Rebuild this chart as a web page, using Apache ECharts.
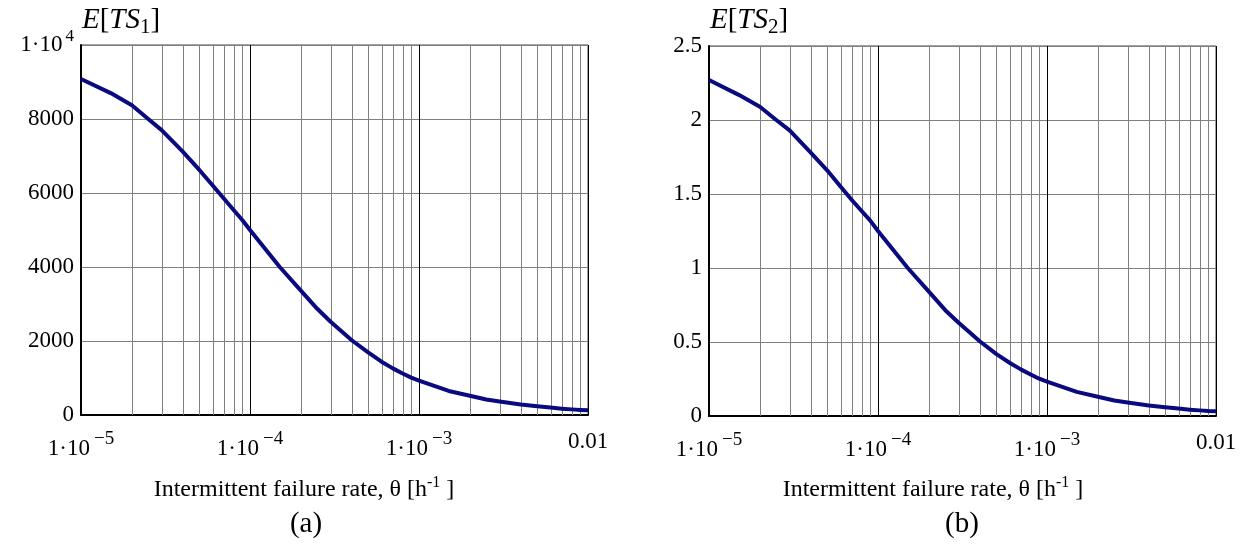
<!DOCTYPE html>
<html>
<head>
<meta charset="utf-8">
<script src="https://cdn.jsdelivr.net/npm/echarts@6/dist/echarts.min.js"></script>
<style>
  html, body { margin: 0; padding: 0; background: #fff; }
  #chart { width: 1251px; height: 555px; }
</style>
</head>
<body>
<div id="chart"></div>
<script>
// failure rate samples (h^-1), log axis
const theta = [
  1e-5, 1.5e-5, 2e-5, 2.5e-5, 3e-5, 4e-5, 5e-5, 6e-5, 7e-5, 8e-5, 9e-5,
  1e-4, 1.5e-4, 2e-4, 2.5e-4, 3e-4, 4e-4, 5e-4, 6e-4, 7e-4, 8e-4, 9e-4,
  1e-3, 1.5e-3, 2e-3, 2.5e-3, 3e-3, 4e-3, 5e-3, 6e-3, 7e-3, 8e-3, 9e-3,
  1e-2
];
// E[TS1], panel (a)
const ts1 = [
  9080, 8700, 8370, 8000, 7700, 7120, 6630, 6210, 5850, 5540, 5270,
  5000, 4000, 3360, 2870, 2520, 2020, 1690, 1440, 1260, 1120, 1010,
  930, 650, 520, 420, 365, 285, 235, 200, 172, 152, 138,
  128
];
// E[TS2], panel (b)
const ts2 = [
  2.27, 2.17, 2.09, 2.0, 1.93, 1.78, 1.66, 1.55, 1.46, 1.385, 1.32,
  1.25, 1.0, 0.84, 0.715, 0.63, 0.505, 0.42, 0.36, 0.315, 0.28, 0.252,
  0.232, 0.163, 0.13, 0.105, 0.091, 0.071, 0.059, 0.05, 0.043, 0.038, 0.034,
  0.032
];
const xMin = 1e-5, xMax = 1e-2;
// minor grid lines at 2..9 inside each decade
const minorLines = [
  2e-5, 3e-5, 4e-5, 5e-5, 6e-5, 7e-5, 8e-5, 9e-5,
  2e-4, 3e-4, 4e-4, 5e-4, 6e-4, 7e-4, 8e-4, 9e-4,
  2e-3, 3e-3, 4e-3, 5e-3, 6e-3, 7e-3, 8e-3, 9e-3
];

const FONT = '"Liberation Serif", "DejaVu Serif", serif';
const INK = '#000';
const GRID_GRAY = '#808080';

const chart = echarts.init(document.getElementById('chart'));

function xLabel(v) {
  const e = Math.round(Math.log10(v));
  if (e === -2) return '{b|0.01}';
  return '{b|1·10}{s|−' + (-e) + '}';
}

const richX = {
  b: { fontFamily: FONT, fontSize: 23, color: INK },
  s: { fontFamily: FONT, fontSize: 19, color: INK, padding: [0, 0, 18, 4] }
};

function xAxis(idx) {
  return {
    type: 'log', logBase: 10, gridIndex: idx, min: xMin, max: xMax,
    axisLine: { show: true, onZero: false, lineStyle: { color: INK, width: 2 } },
    axisTick: { show: false },
    axisLabel: { margin: 15, formatter: xLabel, rich: richX },
    splitLine: { show: true, lineStyle: { color: '#000', width: 1 } },
    minorTick: { show: false },
  };
}

function yAxis(idx, max, interval, fmt) {
  return {
    type: 'value', gridIndex: idx, min: 0, max: max, interval: interval,
    axisLine: { show: true, lineStyle: { color: INK, width: 2 } },
    axisTick: { show: false },
    axisLabel: {
      margin: 7, fontFamily: FONT, fontSize: 23, color: INK, formatter: fmt,
      rich: {
        b: { fontFamily: FONT, fontSize: 23, color: INK },
        s: { fontFamily: FONT, fontSize: 17, color: INK, padding: [0, 0, 16, 3] }
      }
    },
    splitLine: { show: true, lineStyle: { color: GRID_GRAY, width: 1 } },
  };
}

// thin vertical lines at 2..9 of each decade, placed through the axes
function minorGrid(idx, yMax) {
  return {
    type: 'custom', xAxisIndex: idx, yAxisIndex: idx, silent: true, z: 1,
    data: minorLines.map(v => [v]),
    renderItem: (params, api) => {
      const v = api.value(0);
      const p0 = api.coord([v, 0]);
      const p1 = api.coord([v, yMax]);
      return {
        type: 'line',
        shape: { x1: Math.round(p0[0]) + 0.5, y1: p0[1], x2: Math.round(p1[0]) + 0.5, y2: p1[1] },
        style: { stroke: GRID_GRAY, lineWidth: 1 }
      };
    }
  };
}

function curve(idx, vals) {
  return {
    type: 'line', xAxisIndex: idx, yAxisIndex: idx, z: 5,
    data: theta.map((t, i) => [t, vals[i]]),
    smooth: false, showSymbol: false, animation: false,
    lineStyle: { color: '#0a0a80', width: 4, join: 'round' },
  };
}

function yTitle(x, sub) {
  return {
    type: 'text', left: x, top: 6,
    style: {
      text: '{i|E}{n|[}{i|TS}{u|' + sub + '}{n|]}',
      rich: {
        i: { fontFamily: FONT, fontSize: 29, fontStyle: 'italic', fill: INK },
        n: { fontFamily: FONT, fontSize: 29, fill: INK },
        u: { fontFamily: FONT, fontSize: 21, fill: INK, padding: [14, 0, 0, 0] }
      }
    }
  };
}

function xName(cx) {
  return {
    type: 'text', x: cx, y: 490,
    style: {
      text: '{n|Intermittent failure rate, θ [h}{s|-1}{n| ]}',
      align: 'center', verticalAlign: 'middle',
      rich: {
        n: { fontFamily: FONT, fontSize: 24, fill: INK },
        s: { fontFamily: FONT, fontSize: 16, fill: INK, padding: [0, 0, 14, 0] }
      }
    }
  };
}

function panelTag(cx, txt) {
  return {
    type: 'text', x: cx, y: 524,
    style: { text: txt, fontFamily: FONT, fontSize: 29, fill: INK, align: 'center', verticalAlign: 'middle' }
  };
}

chart.setOption({
  animation: false,
  grid: [
    { left: 81, top: 45, width: 507, height: 370, show: true, borderColor: '#444', borderWidth: 1 },
    { left: 709, top: 46, width: 507, height: 370, show: true, borderColor: '#444', borderWidth: 1 }
  ],
  xAxis: [xAxis(0), xAxis(1)],
  yAxis: [
    yAxis(0, 10000, 2000, v => v === 10000 ? '{b|1·10}{s|4}' : String(v)),
    yAxis(1, 2.5, 0.5, v => String(v))
  ],
  series: [minorGrid(0, 10000), minorGrid(1, 2.5), curve(0, ts1), curve(1, ts2)],
  graphic: [
    yTitle(82, '1'), yTitle(710, '2'),
    xName(304), xName(933),
    panelTag(306, '(a)'), panelTag(962, '(b)')
  ]
});
</script>
</body>
</html>
